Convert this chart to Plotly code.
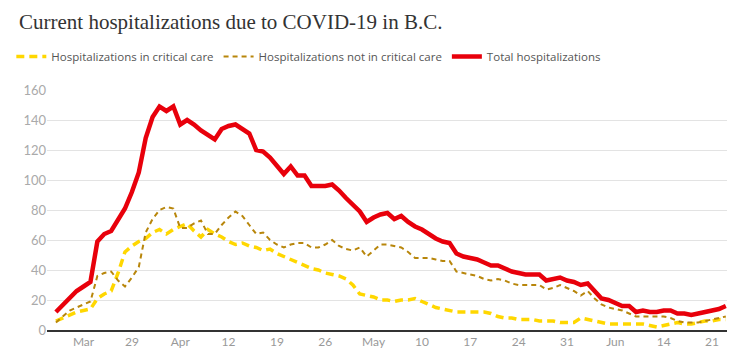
import datetime as dt
import plotly.graph_objects as go

start = dt.date(2020, 3, 18)

critical = [6, 8, 10, 12, 13, 14, 21, 24, 26, 38,
            52, 56, 59, 61, 65, 67, 64, 67, 69, 71,
            66, 62, 67, 64, 62, 59, 57, 58, 56, 55,
            53, 54, 51, 49, 47, 45, 43, 41, 40, 38,
            37, 36, 34, 30, 24, 23, 22, 20, 20, 19,
            20, 20, 21, 19, 17, 15, 14, 13, 12, 12,
            12, 12, 12, 11, 9, 8, 8, 7, 7, 7,
            6, 6, 6, 5, 5, 5, 8, 7, 6, 5,
            4, 4, 4, 4, 4, 4, 3, 2, 3, 4,
            5, 4, 4, 5, 6, 6, 7, 7]

not_critical = [5, 9, 13, 15, 17, 19, 36, 38, 39, 33,
                29, 35, 42, 65, 74, 80, 82, 81, 68, 68,
                71, 73, 64, 64, 70, 75, 79, 76, 70, 64,
                65, 60, 57, 55, 57, 58, 58, 55, 55, 57,
                60, 56, 54, 53, 55, 49, 53, 57, 57, 56,
                55, 52, 48, 48, 48, 47, 46, 46, 39, 38,
                37, 36, 34, 33, 34, 33, 31, 30, 30, 30,
                30, 27, 28, 30, 28, 26, 23, 26, 21, 17,
                15, 14, 13, 11, 9, 9, 9, 9, 9, 8,
                6, 5, 5, 5, 6, 7, 8, 9]

total = [12, 17, 21, 26, 29, 32, 59, 64, 66, 73,
         81, 92, 105, 128, 142, 149, 146, 149, 137, 140,
         137, 133, 130, 127, 134, 136, 137, 134, 131, 120,
         119, 115, 109, 104, 109, 103, 103, 96, 96, 96,
         97, 93, 88, 83, 79, 72, 75, 77, 78, 74,
         76, 72, 69, 67, 64, 61, 59, 58, 51, 49,
         48, 47, 45, 43, 43, 41, 39, 38, 37, 37,
         37, 33, 34, 35, 33, 32, 30, 31, 26, 21,
         20, 18, 16, 16, 12, 13, 12, 12, 13, 13,
         11, 11, 10, 11, 12, 13, 14, 16]

dates = [start + dt.timedelta(days=i) for i in range(len(total))]

tick_dates = ["2020-03-22", "2020-03-29", "2020-04-05", "2020-04-12", "2020-04-19",
              "2020-04-26", "2020-05-03", "2020-05-10", "2020-05-17", "2020-05-24",
              "2020-05-31", "2020-06-07", "2020-06-14", "2020-06-21"]
tick_text = ["Mar", "29", "Apr", "12", "19", "26", "May", "10", "17", "24",
             "31", "Jun", "14", "21"]

fig = go.Figure()
fig.add_trace(go.Scatter(x=dates, y=critical, mode="lines",
                         name="Hospitalizations in critical care",
                         line=dict(color="#ffd700", width=3.5, dash="8px,5px")))
fig.add_trace(go.Scatter(x=dates, y=not_critical, mode="lines",
                         name="Hospitalizations not in critical care",
                         line=dict(color="#b8860b", width=2, dash="5px,4px")))
fig.add_trace(go.Scatter(x=dates, y=total, mode="lines",
                         name="Total hospitalizations",
                         line=dict(color="#e8000b", width=4.5)))

fig.update_layout(
    width=735, height=360,
    margin=dict(l=39, r=10, t=82, b=38, autoexpand=False),
    paper_bgcolor="white", plot_bgcolor="white",
    title=dict(text="Current hospitalizations due to COVID-19 in B.C.",
               x=11/735, xanchor="left", xref="container",
               y=1-14/360, yanchor="middle", yref="container",
               font=dict(family="Liberation Serif, serif", size=21, color="#333333")),
    showlegend=True,
    legend=dict(orientation="h", x=-0.052, xanchor="left", y=1.14, yanchor="middle",
                font=dict(family="Open Sans, sans-serif", size=11.5, color="#555555"),
                itemwidth=30, bgcolor="rgba(0,0,0,0)"),
    xaxis=dict(type="date", range=["2020-03-16 17:00", "2020-06-24 01:00"],
               tickmode="array", tickvals=tick_dates, ticktext=tick_text,
               showgrid=False, ticks="", zeroline=False,
               showline=True, linecolor="#333333", linewidth=1.5,
               tickfont=dict(family="Lato, sans-serif", size=12, color="#999999")),
    yaxis=dict(range=[0, 160], tickvals=[0, 20, 40, 60, 80, 100, 120, 140, 160],
               showgrid=True, gridcolor="#e3e3e3", gridwidth=1,
               zeroline=False, ticks="", ticklen=0,
               tickfont=dict(family="Lato, sans-serif", size=13, color="#aaaaaa")),
)

fig.write_html("out.html")
